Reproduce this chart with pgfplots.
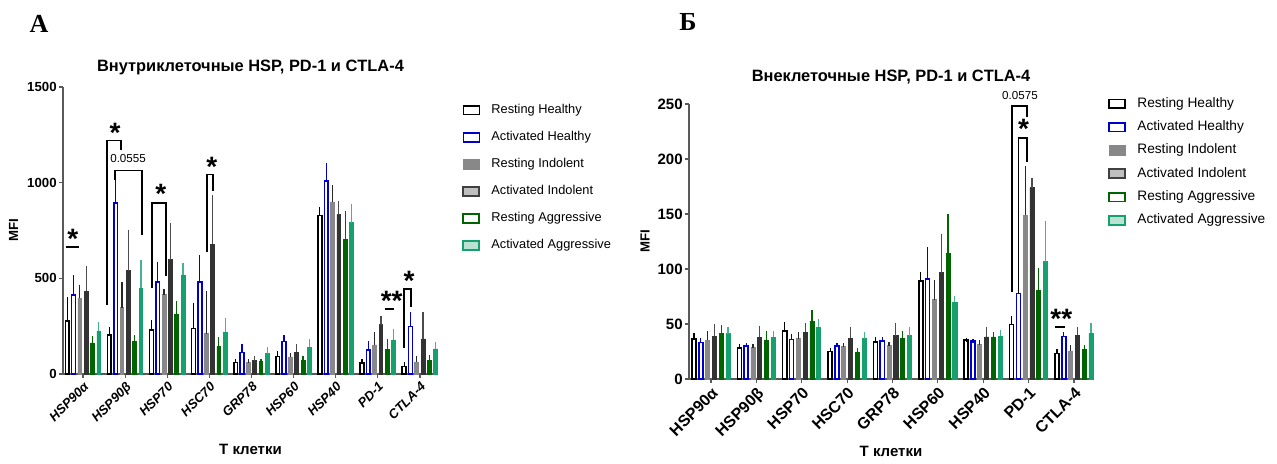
\documentclass[border=0pt]{standalone}
\usepackage{fontspec}
\setmainfont{Liberation Sans}
\newfontfamily\serifbold{Liberation Serif}
\usepackage{pgfplots}
\usepackage{pgfplotstable}
\pgfplotsset{compat=1.18}

\definecolor{cAH}{RGB}{0,0,204}
\definecolor{cRI}{RGB}{136,136,136}
\definecolor{cAI}{RGB}{51,51,51}
\definecolor{cRA}{RGB}{0,100,0}
\definecolor{cAA}{RGB}{22,160,110}

% intracellular MFI: value, upper error
\pgfplotstableread{
x rh rhe ah ahe ri rie ai aie ra rae aa aae
0 276 118 414 92 396 59 433 122 162 25 225 37
1 204 32 895 108 346 122 539 203 169 23 447 138
2 229 43 482 94 415 18 597 181 314 58 515 56
3 237 124 482 129 211 213 677 248 143 40 220 63
4 61 9 113 35 61 8 70 14 65 5 106 25
5 92 18 169 25 89 12 113 32 73 9 141 30
6 829 35 1009 85 899 76 832 60 703 140 790 88
7 56 10 126 36 152 57 258 35 127 48 178 47
8 40 14 248 64 63 21 183 131 73 16 131 26
}\intradata

% extracellular MFI
\pgfplotstableread{
x rh rhe ah ahe ri rie ai aie ra rae aa aae
0 36.4 3.3 33 2 35 7 39 9 41 6 41 4.5
1 28 2 30 0.5 29 1 38 8 35.5 6.5 38 4
2 43.7 6.3 36 3.5 36.7 4.3 42.5 7 52.5 8.5 47 6
3 25 1.7 30.6 0.5 29.7 1.3 37 8.5 24.6 1.5 36.7 4.5
4 33.7 3 34.6 2 30.6 1.4 39.4 10 36.7 5.3 39.4 6
5 89 6 91 27 72 16 96.5 33.5 113.8 34 69.8 4
6 35.2 0.6 34.3 0.4 31.3 2.4 38.2 7.6 38.2 3 39 4
7 49.5 6.3 77.7 17.3 148.7 43 174 6.5 80.7 18.3 106.5 35
8 23.3 1.7 38.5 2 25.5 3.3 39.7 5.8 27 1.8 41.5 7.3
}\extradata

\tikzset{
  sig/.style={font=\bfseries\fontsize{14}{14}\selectfont, anchor=base, yshift=-8pt, inner sep=0pt},
  brk/.style={line width=0.8pt},
}

\pgfplotsset{
  panel/.style={
    scale only axis, ybar, bar width=0.09,
    axis x line*=bottom, axis y line*=left,
    axis line style={black!65, line width=0.6pt},
    tick style={black!65, line width=0.6pt},
    tick align=outside, major tick length=2pt,
    xtick={0,...,8},
    xticklabels={HSP90α,HSP90β,HSP70,HSC70,GRP78,HSP60,HSP40,PD-1,CTLA-4},
    xticklabel style={rotate=45, anchor=north east, inner sep=1pt},
    yticklabel style={inner sep=1pt},
    enlargelimits=false, clip=false, ymin=0,
    /pgf/number format/assume math mode=true,
    /pgf/number format/1000 sep={},
    legend cell align=left,
    title style={font=\bfseries\fontsize{8.2}{9}\selectfont, anchor=center},
    xlabel={Т клетки}, ylabel={MFI},
    xlabel style={font=\bfseries\fontsize{7.5}{9}\selectfont, anchor=center},
    ylabel style={font=\bfseries\fontsize{6.6}{8}\selectfont, anchor=center},
  },
  ebar/.style={error bars/.cd, y dir=plus, y explicit,
    error bar style={#1, line width=0.6pt},
    error mark options={#1, mark size=1pt, line width=0.6pt}},
  sRH/.style={bar shift=-0.375, draw=black, fill=white, line width=0.8pt,
    /pgfplots/legend image code/.code={\draw[black, fill=white, line width=0.8pt] (0pt,-2.2pt) rectangle (8pt,2.2pt);},
    ebar=black},
  sAH/.style={bar shift=-0.225, draw=cAH, fill=white, line width=0.8pt,
    /pgfplots/legend image code/.code={\draw[cAH, fill=white, line width=0.8pt] (0pt,-2.2pt) rectangle (8pt,2.2pt);},
    ebar=cAH},
  sRI/.style={bar shift=-0.075, draw=cRI, fill=cRI, line width=0.4pt,
    /pgfplots/legend image code/.code={\fill[cRI] (0pt,-2.6pt) rectangle (8pt,2.6pt);},
    ebar=black!85},
  sAI/.style={bar shift=0.075, draw=cAI, fill=cAI, line width=0.4pt,
    /pgfplots/legend image code/.code={\draw[black!75, fill=black!25, line width=0.9pt] (0pt,-2.2pt) rectangle (8pt,2.2pt);},
    ebar=black!70},
  sRA/.style={bar shift=0.225, draw=cRA, fill=cRA, line width=0.4pt,
    /pgfplots/legend image code/.code={\draw[cRA, fill=white, line width=0.9pt] (0pt,-2.2pt) rectangle (8pt,2.2pt);},
    ebar=cRA},
  sAA/.style={bar shift=0.375, draw=cAA, fill=cAA, line width=0.4pt,
    /pgfplots/legend image code/.code={\draw[cAA, fill=cAA!30, line width=0.9pt] (0pt,-2.2pt) rectangle (8pt,2.2pt);},
    ebar=cAA!80},
}

\begin{document}
\begin{tikzpicture}

\begin{axis}[panel,
  at={(31.5pt,45pt)}, anchor=south west,
  width=187.5pt, height=143.5pt,
  xmin=-0.475, xmax=8.43, ymax=1500, ytick={0,500,1000,1500},
  yticklabel style={font=\bfseries\fontsize{6.6}{7}\selectfont},
  xticklabel style={font=\bfseries\itshape\fontsize{6.5}{7}\selectfont},
  title={Внутриклеточные HSP, PD-1 и CTLA-4},
  title style={at={(axis description cs:0.5,1)}, yshift=4pt},
  xlabel style={at={(axis description cs:0.5,0)}, yshift=-37.5pt},
  ylabel style={at={(axis description cs:-0.132,0.5)}},
  legend style={at={(1.064,0.946)}, anchor=north west, draw=none, fill=none,
    inner sep=0pt, row sep=6.2pt, font=\fontsize{6.4}{7}\selectfont,
    nodes={inner sep=0.6pt}, /tikz/every odd column/.append style={column sep=5pt}},
]
\addplot[sRH] table[x=x, y=rh, y error=rhe] {\intradata};
\addplot[sAH] table[x=x, y=ah, y error=ahe] {\intradata};
\addplot[sRI] table[x=x, y=ri, y error=rie] {\intradata};
\addplot[sAI] table[x=x, y=ai, y error=aie] {\intradata};
\addplot[sRA] table[x=x, y=ra, y error=rae] {\intradata};
\addplot[sAA] table[x=x, y=aa, y error=aae] {\intradata};
\legend{Resting Healthy, Activated Healthy, Resting Indolent, Activated Indolent, Resting Aggressive, Activated Aggressive}
% significance marks
\draw[brk] (axis cs:-0.40,665) -- (axis cs:-0.10,665);
\node[sig] at (axis cs:-0.24,738) {*};
\draw[brk] (axis cs:0.57,361) -- (axis cs:0.57,1220) -- (axis cs:0.90,1220) -- (axis cs:0.90,1173);
\node[sig] at (axis cs:0.76,1291) {*};
\draw[brk] (axis cs:0.76,1016) -- (axis cs:0.76,1063) -- (axis cs:1.40,1063) -- (axis cs:1.40,728);
\node[font=\fontsize{5.8}{6}\selectfont] at (axis cs:1.07,1126) {0.0555};
\draw[brk] (axis cs:1.64,450) -- (axis cs:1.64,895) -- (axis cs:1.97,895) -- (axis cs:1.97,513);
\node[sig] at (axis cs:1.85,974) {*};
\draw[brk] (axis cs:2.95,639) -- (axis cs:2.95,1042) -- (axis cs:3.09,1042) -- (axis cs:3.09,958);
\node[sig] at (axis cs:3.06,1115) {*};
\draw[brk] (axis cs:7.17,340) -- (axis cs:7.39,340);
\node[sig] at (axis cs:7.33,414) {**};
\draw[brk] (axis cs:7.62,136) -- (axis cs:7.62,445) -- (axis cs:7.79,445) -- (axis cs:7.79,351);
\node[sig] at (axis cs:7.74,518) {*};
\end{axis}

\begin{axis}[panel,
  at={(344.5pt,42.5pt)}, anchor=south west,
  width=202pt, height=137.5pt,
  xmin=-0.485, xmax=8.42, ymax=250, ytick={0,50,100,150,200,250},
  yticklabel style={font=\bfseries\fontsize{7.5}{8}\selectfont},
  xticklabel style={font=\bfseries\fontsize{8}{9}\selectfont},
  title={Внеклеточные HSP, PD-1 и CTLA-4},
  title style={at={(axis description cs:0.5,1)}, yshift=7.5pt},
  xlabel style={at={(axis description cs:0.5,0)}, yshift=-36pt},
  ylabel style={at={(axis description cs:-0.109,0.5)}},
  legend style={at={(1.037,1.03)}, anchor=north west, draw=none, fill=none,
    inner sep=0pt, row sep=4pt, font=\fontsize{6.85}{7.5}\selectfont,
    nodes={inner sep=0.6pt}, /tikz/every odd column/.append style={column sep=5pt}},
]
\addplot[sRH] table[x=x, y=rh, y error=rhe] {\extradata};
\addplot[sAH] table[x=x, y=ah, y error=ahe] {\extradata};
\addplot[sRI] table[x=x, y=ri, y error=rie] {\extradata};
\addplot[sAI] table[x=x, y=ai, y error=aie] {\extradata};
\addplot[sRA] table[x=x, y=ra, y error=rae] {\extradata};
\addplot[sAA] table[x=x, y=aa, y error=aae] {\extradata};
\legend{Resting Healthy, Activated Healthy, Resting Indolent, Activated Indolent, Resting Aggressive, Activated Aggressive}
\draw[brk] (axis cs:6.63,79) -- (axis cs:6.63,248) -- (axis cs:6.96,248) -- (axis cs:6.96,238);
\node[font=\fontsize{5.8}{6}\selectfont] at (axis cs:6.81,258) {0.0575};
\draw[brk] (axis cs:6.78,78) -- (axis cs:6.78,219) -- (axis cs:6.96,219) -- (axis cs:6.96,197);
\node[sig] at (axis cs:6.89,233) {*};
\draw[brk] (axis cs:7.58,47.5) -- (axis cs:7.80,47.5);
\node[sig] at (axis cs:7.72,60) {**};
\end{axis}

\node[font=\serifbold\bfseries\fontsize{13}{13}\selectfont] at (19.5pt,220pt) {А};
\node[font=\serifbold\bfseries\fontsize{13}{13}\selectfont] at (344pt,221pt) {Б};

\pgfresetboundingbox
\path (0,0) rectangle (638.5pt,232pt);
\end{tikzpicture}
\end{document}
